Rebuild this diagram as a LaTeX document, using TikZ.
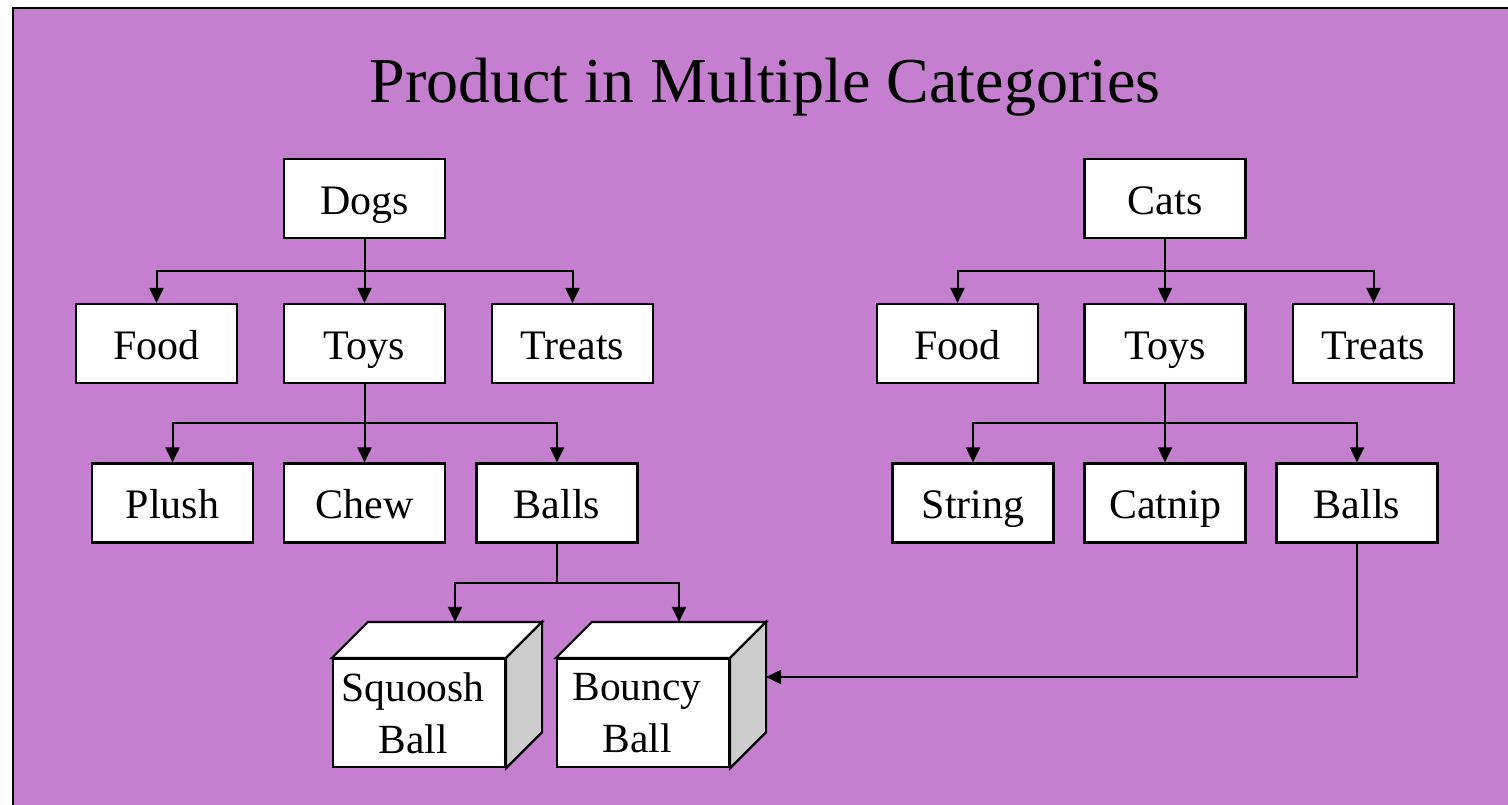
\documentclass[tikz,border=0pt]{standalone}
\usepackage{fontspec}
\setmainfont{Liberation Serif}
\usetikzlibrary{arrows.meta,calc}
\definecolor{bgpurple}{RGB}{196,128,206}
\definecolor{sidegray}{RGB}{204,204,204}
\newcommand{\cubeshiftleft}{\hspace*{-12pt}}
\begin{document}
\begin{tikzpicture}[x=1pt,y=-1pt,
  box/.style={draw,line width=2.2pt,fill=white,minimum width=161pt,minimum height=79pt,inner sep=0pt,text height=31pt,text depth=0pt,font=\fontsize{42}{50}\selectfont},
  cube/.style={draw,line width=2.2pt,fill=white,minimum width=172pt,minimum height=108pt,inner sep=0pt,align=center,font=\fontsize{41.5}{52}\selectfont},
  face/.style={draw,line width=2.2pt},
  conn/.style={line width=2pt,-{Triangle[length=15pt,width=14pt]}},
  plain/.style={line width=2pt}]
\useasboundingbox (0,0) rectangle (1508,804);
\draw[line width=2pt,fill=bgpurple] (12.5,7.5) rectangle (1540,840);
\node[font=\fontsize{64}{72}\selectfont,anchor=base] (title) at (765,102) {Product in Multiple Categories};

% Dogs tree
\node[box] (Dogs) at (364.5,198.5) {Dogs};
\node[box] (FoodL) at (156.5,343.5) {Food};
\node[box] (ToysL) at (364.5,343.5) {Toys};
\node[box] (TreatsL) at (572.5,343.5) {Treats};
\node[box] (Plush) at (172.5,503) {Plush};
\node[box] (Chew) at (364.5,503) {Chew};
\node[box] (BallsL) at (557,503) {Balls};

% Cats tree
\node[box] (Cats) at (1165,198.5) {Cats};
\node[box] (FoodR) at (957.5,343.5) {Food};
\node[box] (ToysR) at (1165,343.5) {Toys};
\node[box] (TreatsR) at (1373.5,343.5) {Treats};
\node[box] (String) at (973,503) {String};
\node[box] (Catnip) at (1165,503) {Catnip};
\node[box] (BallsR) at (1357,503) {Balls};

% Cubes
\node[cube] (Squoosh) at (419,713) {\cubeshiftleft Squoosh\\\cubeshiftleft Ball};
\node[cube] (Bouncy) at (643,713) {\cubeshiftleft Bouncy\\\cubeshiftleft Ball};
\foreach \c in {Squoosh,Bouncy}{
  \filldraw[face,fill=white] (\c.north west) -- ++(36,-36) -- ($(\c.north east)+(36,-36)$) -- (\c.north east) -- cycle;
  \filldraw[face,fill=sidegray] (\c.north east) -- ++(36,-36) -- ($(\c.south east)+(36,-36)$) -- (\c.south east) -- cycle;
}
\coordinate (sqTop) at ($(Squoosh.north)+(36,-36)$);
\coordinate (bcTop) at ($(Bouncy.north)+(36,-36)$);
\coordinate (bcSide) at ($(Bouncy.east)+(36,-36)$);

% bars
\coordinate (b1) at (0,271);
\coordinate (b2) at (0,423);
\coordinate (b3) at (0,583);

% Dogs connectors
\draw[plain] (Dogs.south) -- (Dogs.south |- b1);
\draw[conn] (Dogs.south |- b1) -| (FoodL.north);
\draw[conn] (Dogs.south) -- (ToysL.north);
\draw[conn] (Dogs.south |- b1) -| (TreatsL.north);
\draw[plain] (ToysL.south) -- (ToysL.south |- b2);
\draw[conn] (ToysL.south |- b2) -| (Plush.north);
\draw[conn] (ToysL.south) -- (Chew.north);
\draw[conn] (ToysL.south |- b2) -| (BallsL.north);
\draw[plain] (BallsL.south) -- (BallsL.south |- b3);
\draw[conn] (BallsL.south |- b3) -| (sqTop);
\draw[conn] (BallsL.south |- b3) -| (bcTop);

% Cats connectors
\draw[plain] (Cats.south) -- (Cats.south |- b1);
\draw[conn] (Cats.south |- b1) -| (FoodR.north);
\draw[conn] (Cats.south) -- (ToysR.north);
\draw[conn] (Cats.south |- b1) -| (TreatsR.north);
\draw[plain] (ToysR.south) -- (ToysR.south |- b2);
\draw[conn] (ToysR.south |- b2) -| (String.north);
\draw[conn] (ToysR.south) -- (Catnip.north);
\draw[conn] (ToysR.south |- b2) -| (BallsR.north);
\draw[conn] (BallsR.south) |- (bcSide);
\end{tikzpicture}
\end{document}
